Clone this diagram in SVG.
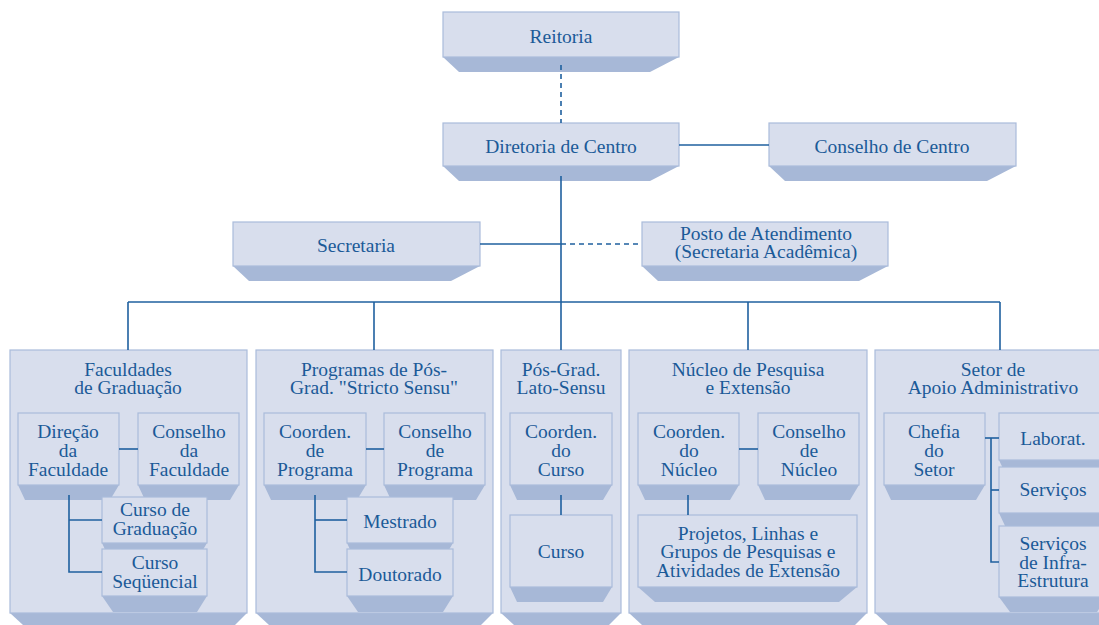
<svg xmlns="http://www.w3.org/2000/svg" width="1099" height="625" viewBox="0 0 1099 625">
<style>
.face{fill:#d8deed;stroke:#aabbdb;stroke-width:1.2}
.shade{fill:#a7b8d7}
.t{font-family:'Liberation Serif',serif;font-size:19.5px;fill:#1b5a98;text-anchor:middle}
.ln{stroke:#1f609f;stroke-width:1.6;fill:none}
.dash{stroke-dasharray:5 4}
</style>
<rect width="1099" height="625" fill="#ffffff"/>
<g id="reitoria">
<polygon class="shade" points="443,57 679,57 650,72 459,72"/>
<rect class="face" x="443" y="12" width="236" height="45"/>
<text class="t" x="561" y="43">Reitoria</text>
</g>
<g id="diretoria">
<polygon class="shade" points="443,166 679,166 650,181 459,181"/>
<rect class="face" x="443" y="123" width="236" height="43"/>
<text class="t" x="561" y="153">Diretoria de Centro</text>
</g>
<g id="conselho-centro">
<polygon class="shade" points="769,166 1016,166 987,181 785,181"/>
<rect class="face" x="769" y="123" width="247" height="43"/>
<text class="t" x="892" y="153">Conselho de Centro</text>
</g>
<g id="secretaria">
<polygon class="shade" points="233,266 480,266 451,281 249,281"/>
<rect class="face" x="233" y="222" width="247" height="44"/>
<text class="t" x="356" y="252">Secretaria</text>
</g>
<g id="posto">
<polygon class="shade" points="642,266 888,266 859,281 658,281"/>
<rect class="face" x="642" y="222" width="246" height="44"/>
<text class="t" x="766" y="240">Posto de Atendimento</text>
<text class="t" x="766" y="258">(Secretaria Acadêmica)</text>
</g>
<g id="faculdades">
<polygon class="shade" points="10,613 247,613 235,625 23,625"/>
<rect class="face" x="10" y="350" width="237" height="263"/>
<text class="t" x="128" y="376">Faculdades</text>
<text class="t" x="128" y="394">de Graduação</text>
</g>
<g id="direcao-faculdade">
<polygon class="shade" points="18,485 119,485 110,500 25,500"/>
<rect class="face" x="18" y="413" width="101" height="72"/>
<text class="t" x="68" y="438">Direção</text>
<text class="t" x="68" y="457">da</text>
<text class="t" x="68" y="476">Faculdade</text>
</g>
<g id="conselho-faculdade">
<polygon class="shade" points="138,485 239,485 230,500 145,500"/>
<rect class="face" x="138" y="413" width="101" height="72"/>
<text class="t" x="189" y="438">Conselho</text>
<text class="t" x="189" y="457">da</text>
<text class="t" x="189" y="476">Faculdade</text>
</g>
<g id="curso-graduacao">
<polygon class="shade" points="102,543 207,543 198,558 109,558"/>
<rect class="face" x="102" y="497" width="105" height="46"/>
<text class="t" x="155" y="516">Curso de</text>
<text class="t" x="155" y="535">Graduação</text>
</g>
<g id="curso-sequencial">
<polygon class="shade" points="102,596 207,596 197,612 113,612"/>
<rect class="face" x="102" y="549" width="105" height="47"/>
<text class="t" x="155" y="569">Curso</text>
<text class="t" x="155" y="588">Seqüencial</text>
</g>
<g id="programas">
<polygon class="shade" points="256,613 493,613 481,625 269,625"/>
<rect class="face" x="256" y="350" width="237" height="263"/>
<text class="t" x="374" y="376">Programas de Pós-</text>
<text class="t" x="374" y="394">Grad. "Stricto Sensu"</text>
</g>
<g id="coorden-programa">
<polygon class="shade" points="264,485 366,485 357,500 271,500"/>
<rect class="face" x="264" y="413" width="102" height="72"/>
<text class="t" x="315" y="438">Coorden.</text>
<text class="t" x="315" y="457">de</text>
<text class="t" x="315" y="476">Programa</text>
</g>
<g id="conselho-programa">
<polygon class="shade" points="384,485 485,485 476,500 391,500"/>
<rect class="face" x="384" y="413" width="101" height="72"/>
<text class="t" x="435" y="438">Conselho</text>
<text class="t" x="435" y="457">de</text>
<text class="t" x="435" y="476">Programa</text>
</g>
<g id="mestrado">
<polygon class="shade" points="347,543 453,543 444,558 354,558"/>
<rect class="face" x="347" y="497" width="106" height="46"/>
<text class="t" x="400" y="528">Mestrado</text>
</g>
<g id="doutorado">
<polygon class="shade" points="347,596 453,596 443,612 358,612"/>
<rect class="face" x="347" y="549" width="106" height="47"/>
<text class="t" x="400" y="581">Doutorado</text>
</g>
<g id="lato-sensu">
<polygon class="shade" points="501,613 621,613 609,625 514,625"/>
<rect class="face" x="501" y="350" width="120" height="263"/>
<text class="t" x="561" y="376">Pós-Grad.</text>
<text class="t" x="561" y="394">Lato-Sensu</text>
</g>
<g id="coorden-curso">
<polygon class="shade" points="510,485 612,485 603,500 517,500"/>
<rect class="face" x="510" y="413" width="102" height="72"/>
<text class="t" x="561" y="438">Coorden.</text>
<text class="t" x="561" y="457">do</text>
<text class="t" x="561" y="476">Curso</text>
</g>
<g id="curso">
<polygon class="shade" points="510,587 612,587 603,602 517,602"/>
<rect class="face" x="510" y="515" width="102" height="72"/>
<text class="t" x="561" y="558">Curso</text>
</g>
<g id="nucleo">
<polygon class="shade" points="629,613 867,613 855,625 642,625"/>
<rect class="face" x="629" y="350" width="238" height="263"/>
<text class="t" x="748" y="376">Núcleo de Pesquisa</text>
<text class="t" x="748" y="394">e Extensão</text>
</g>
<g id="coorden-nucleo">
<polygon class="shade" points="638,485 739,485 730,500 645,500"/>
<rect class="face" x="638" y="413" width="101" height="72"/>
<text class="t" x="689" y="438">Coorden.</text>
<text class="t" x="689" y="457">do</text>
<text class="t" x="689" y="476">Núcleo</text>
</g>
<g id="conselho-nucleo">
<polygon class="shade" points="758,485 859,485 850,500 765,500"/>
<rect class="face" x="758" y="413" width="101" height="72"/>
<text class="t" x="809" y="438">Conselho</text>
<text class="t" x="809" y="457">de</text>
<text class="t" x="809" y="476">Núcleo</text>
</g>
<g id="projetos">
<polygon class="shade" points="638,587 857,587 839,602 655,602"/>
<rect class="face" x="638" y="515" width="219" height="72"/>
<text class="t" x="748" y="540">Projetos, Linhas e</text>
<text class="t" x="748" y="558">Grupos de Pesquisas e</text>
<text class="t" x="748" y="577">Atividades de Extensão</text>
</g>
<g id="setor">
<polygon class="shade" points="875,613 1115,613 1103,625 888,625"/>
<rect class="face" x="875" y="350" width="240" height="263"/>
<text class="t" x="993" y="376">Setor de</text>
<text class="t" x="993" y="394">Apoio Administrativo</text>
</g>
<g id="chefia">
<polygon class="shade" points="884,485 985,485 976,500 891,500"/>
<rect class="face" x="884" y="413" width="101" height="72"/>
<text class="t" x="934" y="438">Chefia</text>
<text class="t" x="934" y="457">do</text>
<text class="t" x="934" y="476">Setor</text>
</g>
<g id="laborat">
<polygon class="shade" points="999,460 1107,460 1098,475 1006,475"/>
<rect class="face" x="999" y="413" width="108" height="47"/>
<text class="t" x="1053" y="445">Laborat.</text>
</g>
<g id="servicos">
<polygon class="shade" points="999,513 1107,513 1098,528 1006,528"/>
<rect class="face" x="999" y="467" width="108" height="46"/>
<text class="t" x="1053" y="496">Serviços</text>
</g>
<g id="infra">
<polygon class="shade" points="999,597 1107,597 1097,612 1010,612"/>
<rect class="face" x="999" y="526" width="108" height="71"/>
<text class="t" x="1053" y="550">Serviços</text>
<text class="t" x="1053" y="569">de Infra-</text>
<text class="t" x="1053" y="587">Estrutura</text>
</g>
<g id="connectors">
<line class="ln dash" x1="561" y1="65" x2="561" y2="123"/>
<line class="ln" x1="561" y1="176" x2="561" y2="350"/>
<line class="ln" x1="679" y1="145" x2="769" y2="145"/>
<line class="ln" x1="480" y1="244" x2="561" y2="244"/>
<line class="ln dash" x1="561" y1="244" x2="642" y2="244"/>
<line class="ln" x1="128" y1="302" x2="1000" y2="302"/>
<line class="ln" x1="128" y1="302" x2="128" y2="350"/>
<line class="ln" x1="374" y1="302" x2="374" y2="350"/>
<line class="ln" x1="748" y1="302" x2="748" y2="350"/>
<line class="ln" x1="1000" y1="302" x2="1000" y2="350"/>
<line class="ln" x1="119" y1="449" x2="138" y2="449"/>
<polyline class="ln" points="69,495 69,572 102,572"/>
<line class="ln" x1="69" y1="520" x2="102" y2="520"/>
<line class="ln" x1="366" y1="449" x2="384" y2="449"/>
<polyline class="ln" points="315,495 315,572 347,572"/>
<line class="ln" x1="315" y1="520" x2="347" y2="520"/>
<line class="ln" x1="561" y1="495" x2="561" y2="515"/>
<line class="ln" x1="739" y1="449" x2="758" y2="449"/>
<line class="ln" x1="688" y1="495" x2="688" y2="515"/>
<polyline class="ln" points="985,438 999,438"/>
<polyline class="ln" points="991,438 991,562 999,562"/>
<line class="ln" x1="991" y1="490" x2="999" y2="490"/>
</g>
</svg>
